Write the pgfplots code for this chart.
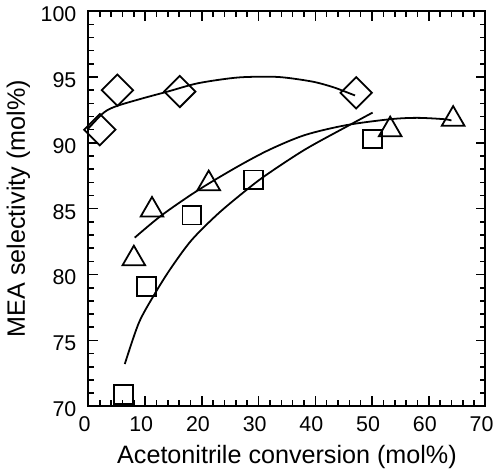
\documentclass[border=0pt]{standalone}
\usepackage{fontspec}
\setmainfont{Liberation Sans}
\usepackage{pgfplots}
\pgfplotsset{compat=1.18}
\begin{document}
\begin{tikzpicture}
\begin{axis}[
  scale only axis,
  width=200.5pt, height=199.5pt,
  xmin=0, xmax=70, ymin=70, ymax=100,
  xtick={0,10,...,70}, ytick={70,75,...,100},
  minor x tick num=4, minor y tick num=4,
  tick align=inside,
  major tick length=5pt, minor tick length=3pt,
  axis line style={line width=1pt},
  every tick/.style={line width=0.8pt, black},
  tick label style={font=\fontsize{10.8}{12}\selectfont},
  /pgf/number format/assume math mode=true,
  xticklabel style={yshift=-1.5pt, xshift=-2pt},
  yticklabel style={xshift=-2.6pt, yshift=-1.5pt},
  xlabel={Acetonitrile conversion (mol\%)},
  ylabel={MEA selectivity (mol\%)},
  label style={font=\fontsize{12.7}{14}\selectfont},
  xlabel style={yshift=0pt},
  ylabel style={yshift=-1.5pt},
  clip=true,
]
% fitted curves
\addplot[smooth, line width=0.9pt, mark=none] coordinates {
 (0,91.1) (2.7,92.3) (5,92.8) (9.7,93.4) (14,93.9) (19,94.5) (24,94.85) (27.7,95.0) (33.6,95.0) (39.4,94.66) (43,94.25) (45.2,93.9) (47,93.6)};
\addplot[smooth, line width=0.9pt, mark=none] coordinates {
 (8.15,82.8) (12.9,84.5) (19.3,86.4) (26.3,88.2) (32,89.5) (38.2,90.6) (45.5,91.35) (53.3,91.8) (58,91.9) (62.7,91.8) (64,91.7)};
\addplot[smooth, line width=0.9pt, mark=none] coordinates {
 (6.4,73.2) (8.85,76.3) (11.5,78.4) (14.4,80.4) (18.15,82.6) (22.8,84.6) (27.5,86.3) (31.3,87.55) (38.2,89.5) (45.8,91.3) (50.1,92.3)};
% diamonds
\addplot[only marks, mark=square, mark options={rotate=45, line width=0.9pt, fill=white}, mark size=5.6pt] coordinates {
 (2,91.0) (5.1,94.0) (16.1,93.9) (47.2,93.8)};
% triangles
\addplot[only marks, mark=triangle, mark options={line width=0.9pt, fill=white}, mark size=6.6pt] coordinates {
 (8.0,81.2) (11.2,84.9) (21.2,86.9) (53.2,91.0) (64.3,91.8)};
% squares
\addplot[only marks, mark=square, mark options={line width=0.9pt, fill=white}, mark size=4.7pt] coordinates {
 (6.2,70.9) (10.2,79.1) (18.2,84.5) (29.1,87.2) (50.1,90.3)};
\end{axis}
\end{tikzpicture}
\end{document}
